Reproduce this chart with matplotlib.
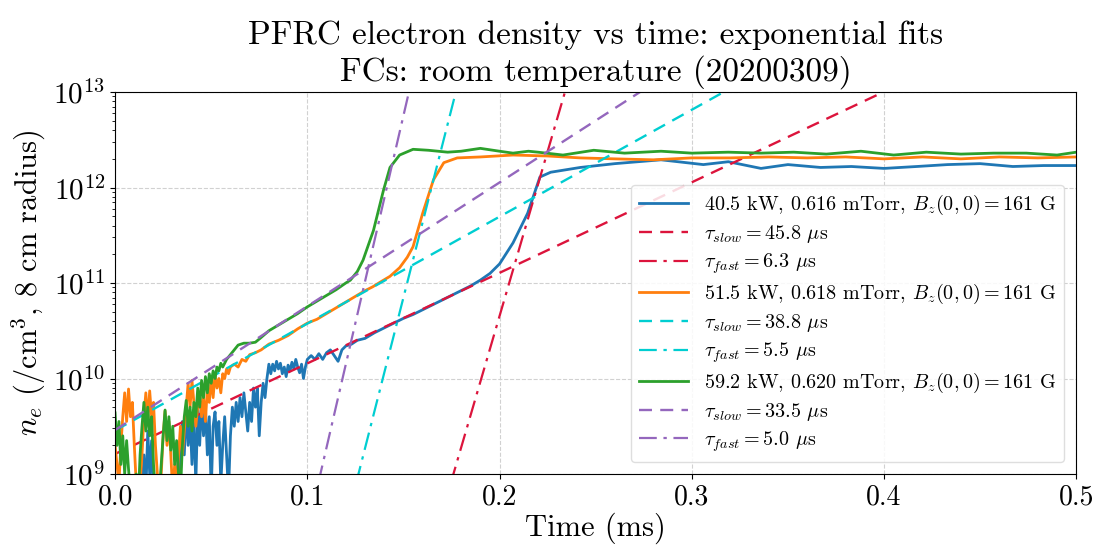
import numpy as np
import matplotlib
matplotlib.use("Agg")
import matplotlib.pyplot as plt

plt.rcParams['font.family'] = 'serif'
plt.rcParams['font.serif'] = ['cmr10']
plt.rcParams['mathtext.fontset'] = 'cm'
plt.rcParams['axes.formatter.use_mathtext'] = True
plt.rcParams['axes.unicode_minus'] = False

# ---------------- data (time in ms, log10 of n_e in /cm^3) ----------------
t_blue = [0.000, 0.010, 0.014, 0.015, 0.016, 0.017, 0.018, 0.019, 0.020, 0.025,
          0.031, 0.032, 0.033, 0.034, 0.035, 0.036, 0.037, 0.038, 0.039, 0.040,
          0.041, 0.042, 0.043, 0.044, 0.045, 0.046, 0.047, 0.048, 0.049, 0.050,
          0.051, 0.052, 0.053, 0.054, 0.055, 0.056, 0.057, 0.058, 0.059, 0.060,
          0.061, 0.062, 0.063, 0.064, 0.065, 0.066, 0.067, 0.068, 0.069, 0.070,
          0.071, 0.072, 0.073, 0.074, 0.075, 0.076, 0.077, 0.078, 0.079, 0.080,
          0.081, 0.082, 0.083, 0.084, 0.085, 0.086, 0.087, 0.088, 0.089, 0.090,
          0.091, 0.092, 0.093, 0.094, 0.095, 0.096, 0.097, 0.098, 0.099, 0.100,
          0.102, 0.104, 0.106, 0.108, 0.110, 0.112, 0.114, 0.116, 0.118, 0.120,
          0.123, 0.126, 0.130, 0.135, 0.140, 0.145, 0.150, 0.155, 0.160, 0.165,
          0.170, 0.175, 0.180, 0.185, 0.190, 0.195, 0.200, 0.207, 0.2146, 0.221,
          0.2266, 0.242, 0.260, 0.284, 0.306, 0.319, 0.336, 0.350, 0.367, 0.383,
          0.400, 0.417, 0.433, 0.450, 0.467, 0.483, 0.500]
log_blue = [8.6, 8.6, 8.7, 9.2, 8.8, 9.45, 9.0, 9.35, 8.7, 8.6,
            8.6, 8.8, 9.3, 9.0, 9.55, 9.2, 9.7, 9.3, 9.6, 9.1,
            9.55, 8.9, 9.7, 9.3, 9.75, 9.4, 9.7, 9.2, 9.6, 8.8,
            9.5, 9.65, 9.3, 9.55, 8.9, 9.3, 9.6, 9.2, 8.8, 9.4,
            9.7, 9.5, 9.75, 9.55, 9.8, 9.6, 9.85, 9.65, 9.45, 9.75,
            9.55, 9.9, 9.7, 9.9, 9.4, 9.75, 9.95, 9.8, 10.0, 10.15,
            10.05, 10.15, 10.08, 10.18, 10.1, 10.16, 10.05, 10.12, 10.02, 10.14,
            10.08, 10.17, 10.1, 10.2, 10.12, 10.06, 10.15, 10.0, 10.12, 10.2,
            10.24, 10.2, 10.26, 10.2, 10.27, 10.3, 10.24, 10.18, 10.3, 10.34,
            10.36, 10.4, 10.42, 10.48, 10.53, 10.58, 10.63, 10.67, 10.72, 10.77,
            10.82, 10.87, 10.92, 10.97, 11.03, 11.1, 11.2, 11.42, 11.73, 12.11,
            12.16, 12.21, 12.25, 12.29, 12.24, 12.27, 12.2, 12.24, 12.21, 12.22,
            12.2, 12.22, 12.24, 12.25, 12.22, 12.23, 12.23]

t_orange = [0.000, 0.001, 0.002, 0.003, 0.004, 0.005, 0.006, 0.007, 0.008, 0.009,
            0.010, 0.011, 0.012, 0.013, 0.014, 0.015, 0.016, 0.017, 0.018, 0.019,
            0.020, 0.021, 0.022, 0.023, 0.024, 0.025, 0.026, 0.027, 0.028, 0.029,
            0.030, 0.031, 0.032, 0.033, 0.034, 0.035, 0.036, 0.037, 0.038, 0.039,
            0.040, 0.041, 0.042, 0.043, 0.044, 0.045, 0.046, 0.047, 0.048, 0.049,
            0.050, 0.051, 0.052, 0.053, 0.054, 0.055, 0.056, 0.057, 0.058, 0.059,
            0.060, 0.062, 0.064, 0.066, 0.068, 0.070, 0.073, 0.076, 0.080, 0.085,
            0.090, 0.095, 0.100, 0.105, 0.110, 0.115, 0.120, 0.125, 0.130, 0.134,
            0.138, 0.143, 0.148, 0.152, 0.155, 0.160, 0.1656, 0.171, 0.178, 0.190,
            0.207, 0.225, 0.242, 0.260, 0.280, 0.300, 0.320, 0.340, 0.360, 0.380,
            0.400, 0.420, 0.440, 0.460, 0.480, 0.500]
log_orange = [9.3, 9.1, 8.9, 9.3, 9.6, 9.85, 9.55, 9.89, 9.6, 9.75,
              9.3, 8.9, 8.7, 8.9, 9.2, 9.6, 9.85, 9.55, 9.87, 9.6,
              9.75, 9.3, 9.0, 8.7, 9.0, 9.4, 9.66, 9.3, 9.55, 9.2,
              8.8, 9.1, 8.8, 9.2, 9.5, 9.2, 9.45, 9.7, 9.95, 9.7,
              9.98, 9.75, 9.5, 9.7, 9.85, 9.6, 9.8, 9.55, 9.9, 9.75,
              10.0, 9.8, 10.05, 9.9, 10.0, 9.85, 10.05, 10.0, 10.1, 10.05,
              10.12, 10.15, 10.12, 10.2, 10.18, 10.25, 10.27, 10.3, 10.36, 10.4,
              10.45, 10.52, 10.58, 10.62, 10.68, 10.74, 10.8, 10.86, 10.92, 10.96,
              11.01, 11.07, 11.16, 11.27, 11.38, 11.73, 12.08, 12.26, 12.31, 12.32,
              12.34, 12.33, 12.31, 12.3, 12.29, 12.31, 12.31, 12.32, 12.31, 12.32,
              12.3, 12.32, 12.3, 12.32, 12.31, 12.32]

t_green = [0.000, 0.001, 0.002, 0.003, 0.004, 0.005, 0.006, 0.007, 0.008, 0.009,
           0.010, 0.011, 0.012, 0.013, 0.014, 0.015, 0.016, 0.017, 0.018, 0.019,
           0.020, 0.021, 0.022, 0.023, 0.024, 0.025, 0.026, 0.027, 0.028, 0.029,
           0.030, 0.031, 0.032, 0.033, 0.034, 0.035, 0.036, 0.037, 0.038, 0.039,
           0.040, 0.041, 0.042, 0.043, 0.044, 0.045, 0.046, 0.047, 0.048, 0.049,
           0.050, 0.051, 0.052, 0.053, 0.054, 0.055, 0.056, 0.058, 0.060, 0.062,
           0.064, 0.067, 0.070, 0.073, 0.076, 0.080, 0.085, 0.090, 0.095, 0.100,
           0.105, 0.110, 0.115, 0.120, 0.1224, 0.126, 0.129, 0.1344, 0.1396, 0.143,
           0.148, 0.155, 0.163, 0.173, 0.180, 0.190, 0.200, 0.207, 0.215, 0.220,
           0.233, 0.249, 0.265, 0.284, 0.300, 0.319, 0.336, 0.353, 0.370, 0.388,
           0.405, 0.422, 0.440, 0.457, 0.474, 0.490, 0.500]
log_green = [9.64, 9.3, 9.55, 9.1, 9.4, 9.0, 9.35, 9.05, 8.8, 8.6,
             8.8, 9.0, 8.7, 9.2, 9.5, 9.75, 9.45, 9.7, 9.4, 9.6,
             9.1, 8.8, 8.6, 8.8, 9.1, 9.4, 9.67, 9.35, 9.6, 9.25,
             9.5, 9.1, 9.35, 9.0, 8.8, 9.3, 9.6, 9.77, 9.5, 9.7,
             9.45, 9.75, 9.6, 9.9, 9.7, 9.98, 9.8, 10.02, 9.85, 10.05,
             9.95, 10.08, 10.0, 10.12, 10.08, 10.16, 10.12, 10.2, 10.25, 10.3,
             10.35, 10.37, 10.37, 10.38, 10.43, 10.5, 10.56, 10.62, 10.68, 10.75,
             10.81, 10.87, 10.93, 11.0, 11.03, 11.12, 11.24, 11.55, 11.97, 12.21,
             12.34, 12.40, 12.39, 12.37, 12.38, 12.41, 12.38, 12.36, 12.38, 12.37,
             12.34, 12.39, 12.36, 12.38, 12.36, 12.37, 12.36, 12.37, 12.35, 12.38,
             12.34, 12.37, 12.35, 12.36, 12.36, 12.34, 12.37]

# fit parameters: slow fits n = n0 * exp(t/tau); fast fits pass 1e9 at t_1e9
labels_shot = [r'40.5 kW, 0.616 mTorr, $B_z(0,0) = 161$ G',
               r'51.5 kW, 0.618 mTorr, $B_z(0,0) = 161$ G',
               r'59.2 kW, 0.620 mTorr, $B_z(0,0) = 161$ G']
tau_slow_us = [45.8, 38.8, 33.5]
log_n0_slow = [9.21, 9.456, 9.46]
tau_fast_us = [6.3, 5.5, 5.0]
t_1e9_fast = [0.176, 0.1266, 0.1068]

shot_colors = ['tab:blue', 'tab:orange', 'tab:green']
fit_colors = ['crimson', 'darkturquoise', 'tab:purple']

# ---------------- plot ----------------
fig = plt.figure(figsize=(10.96, 5.49), dpi=100)
ax = fig.add_axes([0.105, 0.1366, 0.877, 0.6958])

series = [(t_blue, log_blue), (t_orange, log_orange), (t_green, log_green)]
tt = np.linspace(0, 0.5, 1001)
for i, (ts, ls_) in enumerate(series):
    ax.plot(ts, 10 ** np.array(ls_), color=shot_colors[i], lw=2.0, label=labels_shot[i])
    tau_s = tau_slow_us[i] * 1e-3
    n_slow = 10 ** log_n0_slow[i] * np.exp(tt / tau_s)
    ax.plot(tt, n_slow, color=fit_colors[i], ls=(0, (5.5, 3.5)), lw=1.7,
            label=r'$\tau_{slow} = %.1f$ $\mu$s' % tau_slow_us[i])
    tau_f = tau_fast_us[i] * 1e-3
    n_fast = 1e9 * np.exp((tt - t_1e9_fast[i]) / tau_f)
    ax.plot(tt, n_fast, color=fit_colors[i], ls=(0, (8, 3, 1.5, 3)), lw=1.6,
            label=r'$\tau_{fast} = %.1f$ $\mu$s' % tau_fast_us[i])

ax.set_yscale('log')
ax.set_xlim(0, 0.5)
ax.set_ylim(1e9, 1e13)
ax.set_xticks([0.0, 0.1, 0.2, 0.3, 0.4, 0.5])
ax.set_xticklabels(['0.0', '0.1', '0.2', '0.3', '0.4', '0.5'])
ax.tick_params(axis='x', which='major', labelsize=20)
ax.tick_params(axis='y', which='major', labelsize=21)
ax.grid(True, which='major', ls='--', color='0.82', lw=0.8)
ax.set_xlabel('Time (ms)', fontsize=22, labelpad=2)
ax.set_ylabel(r'$n_e$ (/cm$^3$, 8 cm radius)', fontsize=22, labelpad=4)
ax.set_title('PFRC electron density vs time: exponential fits\nFCs: room temperature (20200309)',
             fontsize=24, linespacing=1.2, pad=8)

leg = ax.legend(loc='lower right', fontsize=14.5, handlelength=2.4, labelspacing=0.3,
                framealpha=0.85, edgecolor='0.85', fancybox=True, borderaxespad=0.6)

fig.savefig('out.png', dpi=100)
